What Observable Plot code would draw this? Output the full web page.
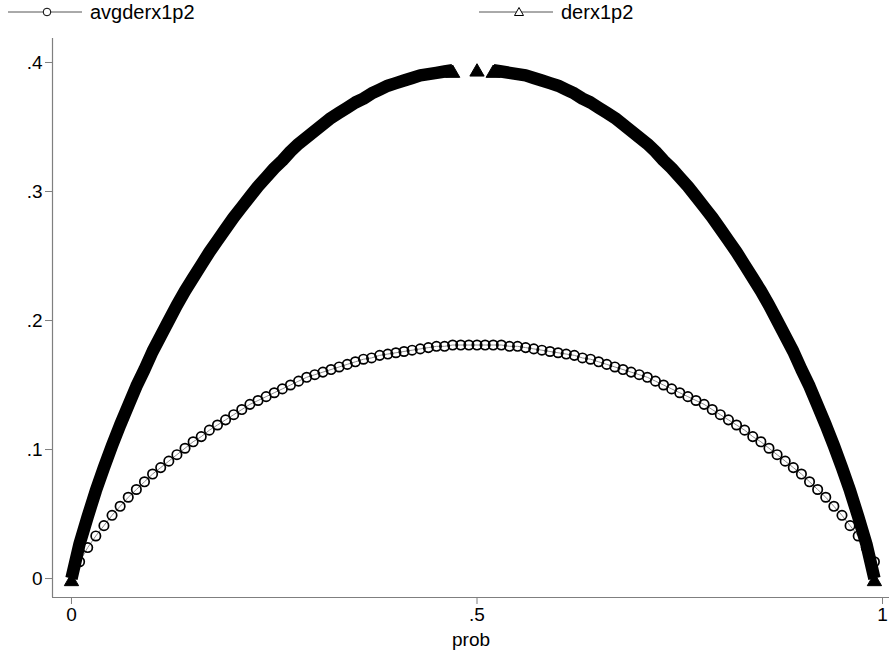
<!DOCTYPE html>
<html>
<head>
<meta charset="utf-8">
<script src="https://cdn.jsdelivr.net/npm/d3@7"></script>
<script src="https://cdn.jsdelivr.net/npm/@observablehq/plot@0.6"></script>
<style>
  html, body { margin: 0; padding: 0; background: #fff; }
  #wrap { width: 889px; height: 658px; position: relative; font-family: "Liberation Sans", Arial, sans-serif; }
  #legend { height: 26px; position: relative; font-size: 20px; color: #000; }
  #legend .item { position: absolute; top: 0; height: 24px; display: flex; align-items: center; }
  #legend svg { display: block; }
</style>
</head>
<body>
<div id="wrap">
  <div id="legend"></div>
  <div id="chart"></div>
</div>
<script>
// ---- Data ----
const seriesNames = ["avgderx1p2", "derx1p2"];

const probA = [0.01,0.02,0.03,0.04,0.05,0.06,0.07,0.08,0.09,0.10,
  0.11,0.12,0.13,0.14,0.15,0.16,0.17,0.18,0.19,0.20,
  0.21,0.22,0.23,0.24,0.25,0.26,0.27,0.28,0.29,0.30,
  0.31,0.32,0.33,0.34,0.35,0.36,0.37,0.38,0.39,0.40,
  0.41,0.42,0.43,0.44,0.45,0.46,0.47,0.48,0.49,0.50,
  0.51,0.52,0.53,0.54,0.55,0.56,0.57,0.58,0.59,0.60,
  0.61,0.62,0.63,0.64,0.65,0.66,0.67,0.68,0.69,0.70,
  0.71,0.72,0.73,0.74,0.75,0.76,0.77,0.78,0.79,0.80,
  0.81,0.82,0.83,0.84,0.85,0.86,0.87,0.88,0.89,0.90,
  0.91,0.92,0.93,0.94,0.95,0.96,0.97,0.98,0.99];

const avgderx1p2 = [0.013,0.024,0.033,0.041,0.049,0.056,0.063,0.069,0.075,0.081,
  0.086,0.091,0.096,0.101,0.106,0.110,0.115,0.119,0.123,0.127,
  0.131,0.135,0.138,0.141,0.144,0.147,0.150,0.153,0.156,0.158,
  0.160,0.162,0.164,0.166,0.168,0.170,0.171,0.173,0.174,0.175,
  0.176,0.177,0.178,0.179,0.180,0.180,0.181,0.181,0.181,0.181,
  0.181,0.181,0.181,0.180,0.180,0.179,0.178,0.177,0.176,0.175,
  0.174,0.173,0.171,0.170,0.168,0.166,0.164,0.162,0.160,0.158,
  0.156,0.153,0.150,0.147,0.144,0.141,0.138,0.135,0.131,0.127,
  0.123,0.119,0.115,0.110,0.106,0.101,0.096,0.091,0.086,0.081,
  0.075,0.069,0.063,0.056,0.049,0.041,0.033,0.024,0.013];

const probD = [0.00,0.01,0.02,0.03,0.04,0.05,0.06,0.07,0.08,0.09,0.10,
  0.11,0.12,0.13,0.14,0.15,0.16,0.17,0.18,0.19,0.20,
  0.21,0.22,0.23,0.24,0.25,0.26,0.27,0.28,0.29,0.30,
  0.31,0.32,0.33,0.34,0.35,0.36,0.37,0.38,0.39,0.40,
  0.41,0.42,0.43,0.44,0.45,0.46,0.47,0.48,0.49,0.50,
  0.51,0.52,0.53,0.54,0.55,0.56,0.57,0.58,0.59,0.60,
  0.61,0.62,0.63,0.64,0.65,0.66,0.67,0.68,0.69,0.70,
  0.71,0.72,0.73,0.74,0.75,0.76,0.77,0.78,0.79,0.80,
  0.81,0.82,0.83,0.84,0.85,0.86,0.87,0.88,0.89,0.90,
  0.91,0.92,0.93,0.94,0.95,0.96,0.97,0.98,0.99,1.00];

// null = no observations in that stretch (gap near the peak)
const derx1p2 = [0.000,0.027,0.048,0.068,0.086,0.103,0.119,0.134,0.149,0.162,0.176,
  0.188,0.200,0.212,0.223,0.233,0.243,0.253,0.262,0.271,0.280,
  0.288,0.296,0.304,0.311,0.318,0.324,0.331,0.337,0.342,0.347,
  0.352,0.357,0.361,0.365,0.369,0.372,0.376,0.379,0.382,0.384,
  0.386,0.388,0.390,0.391,0.392,0.393,0.394,null,null,0.395,
  null,0.394,0.393,0.392,0.391,0.390,0.388,0.386,0.384,0.382,
  0.379,0.376,0.372,0.369,0.365,0.361,0.357,0.352,0.347,0.342,
  0.337,0.331,0.324,0.318,0.311,0.304,0.296,0.288,0.280,0.271,
  0.262,0.253,0.243,0.233,0.223,0.212,0.200,0.188,0.176,0.162,
  0.149,0.134,0.119,0.103,0.086,0.068,0.048,0.027,0.000];

const xTicks = [0, 0.5, 1];
const xTickLabels = ["0", ".5", "1"];
const yTicks = [0, 0.1, 0.2, 0.3, 0.4];
const yTickLabels = ["0", ".1", ".2", ".3", ".4"];
const xTitle = "prob";

// ---- Build rows ----
const avgRows = probA.map((p, i) => ({prob: p, value: avgderx1p2[i]}));
const derRows = probD.map((p, i) => ({prob: p, value: derx1p2[i]}));
// triangles visible where the band ends (series ends and the edges of the gap)
const derEnds = derRows.filter((d, i) => d.value != null &&
  (i === 0 || i === derRows.length - 1 || derRows[i - 1].value == null || derRows[i + 1].value == null));

const xDomain = [-0.0234, 1.0086];
const yDomain = [-0.0147, 0.4186];
const axisGray = "#7f7f7f";
const FS = 19;

const chart = Plot.plot({
  width: 889,
  height: 632,
  marginLeft: 52,
  marginRight: 0,
  marginTop: 12,
  marginBottom: 61,
  x: {domain: xDomain},
  y: {domain: yDomain},
  style: {fontFamily: "'Liberation Sans', Arial, sans-serif", fontSize: FS + "px", background: "#fff", color: "#000"},
  marks: [
    Plot.ruleX([xDomain[0]], {stroke: axisGray, strokeWidth: 1.2}),
    Plot.ruleY([yDomain[0]], {stroke: axisGray, strokeWidth: 1.2}),
    Plot.axisY({ticks: yTicks, tickFormat: (d) => yTickLabels[yTicks.indexOf(d)], tickSize: 7, tickPadding: 3, stroke: axisGray, label: null, fontSize: FS}),
    Plot.axisX({ticks: xTicks, tickFormat: (d) => xTickLabels[xTicks.indexOf(d)], tickSize: 7, tickPadding: 3, stroke: axisGray, label: null, fontSize: FS}),
    Plot.text([xTitle], {frameAnchor: "bottom", dy: 48, fontSize: FS, fill: "#000"}),
    // avgderx1p2: hollow circles connected by a thin gray line
    Plot.line(avgRows, {x: "prob", y: "value", stroke: "#8c8c8c", strokeWidth: 1}),
    Plot.dot(avgRows, {x: "prob", y: "value", r: 4.7, stroke: "#000", strokeWidth: 1.7, fill: "none"}),
    // derx1p2: very dense triangles forming a solid band
    Plot.line(derRows, {x: "prob", y: "value", stroke: "#000", strokeWidth: 12.5, strokeLinecap: "butt", defined: d => d.value != null}),
    Plot.dot(derEnds, {x: "prob", y: "value", symbol: "triangle", r: 5.3, dy: 3, fill: "#000", stroke: "#000", strokeWidth: 1})
  ]
});
document.getElementById("chart").appendChild(chart);

// ---- Legend ----
const legend = document.getElementById("legend");
function addItem(left, symbol, name) {
  const item = document.createElement("div");
  item.className = "item";
  item.style.left = left + "px";
  const ns = "http://www.w3.org/2000/svg";
  const s = document.createElementNS(ns, "svg");
  s.setAttribute("width", 76); s.setAttribute("height", 16);
  const ln = document.createElementNS(ns, "line");
  ln.setAttribute("x1", 0); ln.setAttribute("x2", 74); ln.setAttribute("y1", 8); ln.setAttribute("y2", 8);
  ln.setAttribute("stroke", "#555"); ln.setAttribute("stroke-width", 1);
  s.appendChild(ln);
  if (symbol === "circle") {
    const c = document.createElementNS(ns, "circle");
    c.setAttribute("cx", 39); c.setAttribute("cy", 8); c.setAttribute("r", 3.8);
    c.setAttribute("fill", "#fff"); c.setAttribute("stroke", "#000"); c.setAttribute("stroke-width", 1);
    s.appendChild(c);
  } else {
    const p = document.createElementNS(ns, "path");
    p.setAttribute("d", "M40,3.5 L44.5,11.5 L35.5,11.5 Z");
    p.setAttribute("fill", "#fff"); p.setAttribute("stroke", "#000"); p.setAttribute("stroke-width", 1);
    s.appendChild(p);
  }
  item.appendChild(s);
  const t = document.createElement("span");
  t.textContent = name;
  t.style.marginLeft = "6px";
  item.appendChild(t);
  legend.appendChild(item);
}
addItem(8, "circle", seriesNames[0]);
addItem(479, "triangle", seriesNames[1]);
</script>
</body>
</html>
